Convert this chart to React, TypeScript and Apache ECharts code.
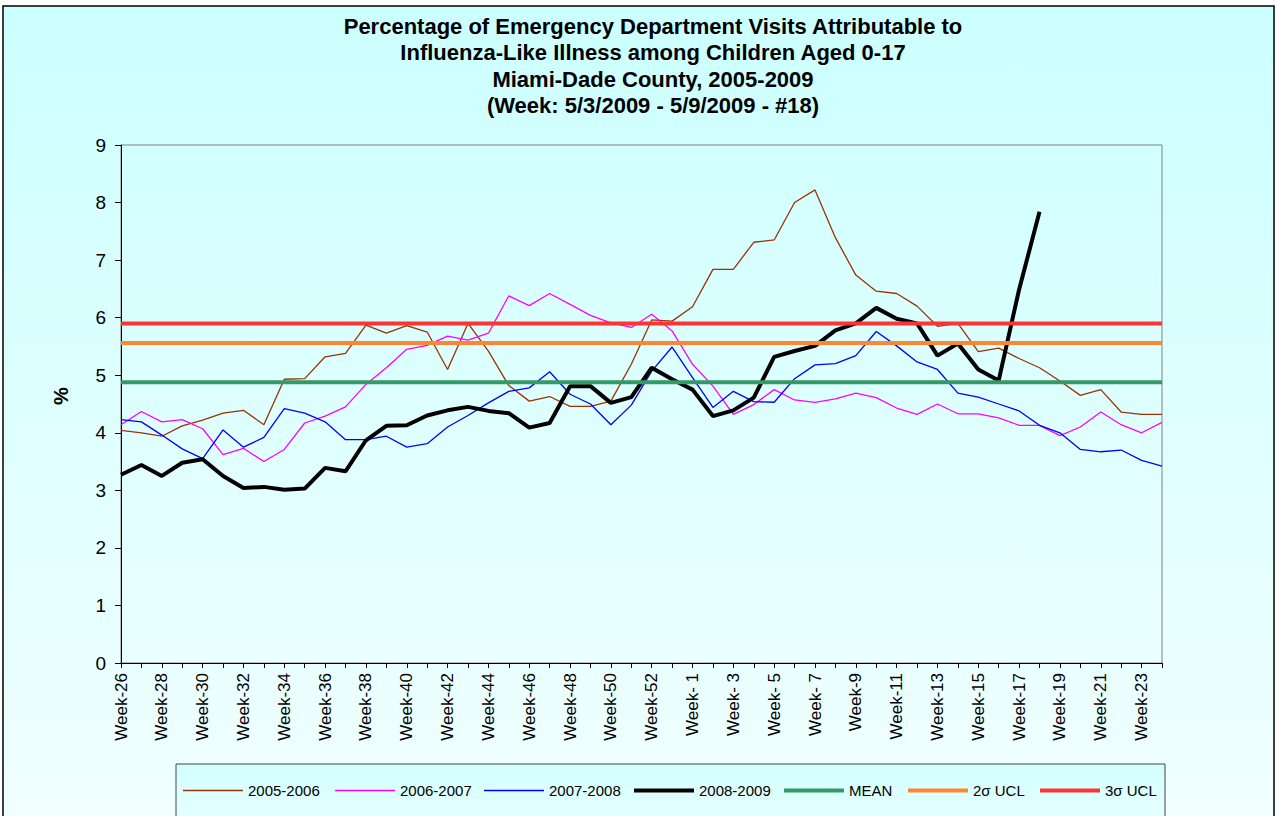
import React, { useEffect, useRef } from "react";
import * as echarts from "echarts";

const weeks = [
  "Week-26", "Week-27", "Week-28", "Week-29", "Week-30", "Week-31", "Week-32", "Week-33", "Week-34", "Week-35",
  "Week-36", "Week-37", "Week-38", "Week-39", "Week-40", "Week-41", "Week-42", "Week-43", "Week-44", "Week-45",
  "Week-46", "Week-47", "Week-48", "Week-49", "Week-50", "Week-51", "Week-52", "Week-53",
  "Week- 1", "Week- 2", "Week- 3", "Week- 4", "Week- 5", "Week- 6", "Week- 7", "Week- 8", "Week-9", "Week-10",
  "Week-11", "Week-12", "Week-13", "Week-14", "Week-15", "Week-16", "Week-17", "Week-18", "Week-19", "Week-20",
  "Week-21", "Week-22", "Week-23", "Week-24",
];

const s2005 = [
  4.04, 4.0, 3.94, 4.12, 4.22, 4.34, 4.39, 4.14, 4.93, 4.94, 5.32, 5.38, 5.87, 5.73, 5.86, 5.75, 5.1, 5.9, 5.42, 4.82,
  4.55, 4.63, 4.46, 4.46, 4.55, 5.19, 5.96, 5.94, 6.19, 6.84, 6.84, 7.31, 7.35, 8.0, 8.22, 7.39, 6.74, 6.46, 6.42, 6.2,
  5.85, 5.9, 5.41, 5.47, 5.29, 5.13, 4.9, 4.65, 4.75, 4.36, 4.32, 4.32,
];
const s2006 = [
  4.14, 4.37, 4.19, 4.23, 4.07, 3.62, 3.73, 3.5, 3.71, 4.17, 4.29, 4.45, 4.84, 5.13, 5.45, 5.52, 5.68, 5.61, 5.73, 6.38,
  6.21, 6.42, 6.23, 6.04, 5.91, 5.83, 6.06, 5.77, 5.19, 4.81, 4.32, 4.49, 4.75, 4.57, 4.53, 4.59, 4.69, 4.61, 4.43, 4.32,
  4.5, 4.33, 4.33, 4.26, 4.13, 4.13, 3.95, 4.1, 4.36, 4.14, 4.0, 4.18,
];
const s2007 = [
  4.23, 4.19, 3.96, 3.72, 3.55, 4.05, 3.75, 3.92, 4.42, 4.34, 4.19, 3.88, 3.88, 3.94, 3.75, 3.81, 4.1, 4.3, 4.52, 4.72,
  4.78, 5.06, 4.67, 4.5, 4.14, 4.48, 5.07, 5.49, 4.96, 4.44, 4.72, 4.54, 4.53, 4.94, 5.18, 5.2, 5.34, 5.76, 5.51, 5.23,
  5.1, 4.69, 4.62, 4.5, 4.38, 4.13, 4.0, 3.71, 3.67, 3.7, 3.52, 3.42,
];
const s2008 = [
  3.27, 3.44, 3.25, 3.48, 3.54, 3.25, 3.04, 3.06, 3.01, 3.03, 3.39, 3.33, 3.87, 4.12, 4.13, 4.3, 4.39, 4.45, 4.38, 4.34,
  4.09, 4.17, 4.81, 4.81, 4.52, 4.62, 5.13, 4.93, 4.75, 4.29, 4.39, 4.61, 5.32, 5.42, 5.51, 5.78, 5.9, 6.17, 5.98, 5.9,
  5.34, 5.55, 5.1, 4.91, 6.49, 7.84,
];
const meanValue = 4.88;
const ucl2Value = 5.56;
const ucl3Value = 5.9;

const titleLines = [
  "Percentage of Emergency Department Visits Attributable to",
  "Influenza-Like Illness among Children Aged 0-17",
  "Miami-Dade County, 2005-2009",
  "(Week: 5/3/2009 - 5/9/2009 - #18)",
];

const seriesNames = ["2005-2006", "2006-2007", "2007-2008", "2008-2009", "MEAN", "2\u03c3 UCL", "3\u03c3 UCL"];
const seriesColors = ["#993300", "#ff00ff", "#0000ff", "#000000", "#339966", "#ff8533", "#ff3333"];
const seriesWidths = [1.3, 1.3, 1.3, 4, 4, 4, 4];
const legendLefts = [183, 335, 484, 634, 784, 908, 1040];

const FONT = "'Liberation Sans', Arial, sans-serif";

export default function App() {
  const ref = useRef<HTMLDivElement>(null);
  useEffect(() => {
    if (!ref.current) return;
    const chart = echarts.init(ref.current, null, { renderer: "svg" });
    const flat = (v: number) => weeks.map(() => v);
    const dataSets = [s2005, s2006, s2007, s2008, flat(meanValue), flat(ucl2Value), flat(ucl3Value)];
    chart.setOption({
      animation: false,
      backgroundColor: "transparent",
      textStyle: { fontFamily: FONT },
      title: {
        text: titleLines.join("\n"),
        left: 648,
        top: 8,
        textAlign: "center",
        textStyle: { fontSize: 22, fontWeight: "bold", lineHeight: 26.5, color: "#000", fontFamily: FONT },
      },
      graphic: [
        {
          type: "rect",
          z: -10,
          silent: true,
          shape: { x: 3, y: 6, width: 1271, height: 830 },
          style: {
            fill: new echarts.graphic.LinearGradient(0, 0, 0, 1, [
              { offset: 0, color: "#ccffff" },
              { offset: 1, color: "#f2ffff" },
            ]),
            stroke: "#000",
            lineWidth: 1.5,
          },
        },
        {
          type: "rect",
          z: -5,
          silent: true,
          shape: { x: 176, y: 764, width: 989, height: 80 },
          style: {
            fill: new echarts.graphic.LinearGradient(0, 0, 0, 1, [
              { offset: 0, color: "#d2ffff" },
              { offset: 1, color: "#f0ffff" },
            ]),
            stroke: "#444",
            lineWidth: 1,
          },
        },
        {
          type: "text",
          silent: true,
          x: 61,
          y: 396,
          rotation: Math.PI / 2,
          style: {
            text: "%",
            fontSize: 20,
            fontWeight: "bold",
            fontFamily: FONT,
            fill: "#000",
            align: "center",
            verticalAlign: "middle",
          },
        },
      ],
      legend: seriesNames.map((name, k) => ({
        data: [{ name, icon: "rect", itemStyle: { color: seriesColors[k] } }],
        left: legendLefts[k],
        top: 790 - 7,
        padding: 0,
        itemWidth: 60,
        itemHeight: Math.max(1.5, seriesWidths[k]),
        selectedMode: false,
        textStyle: { fontSize: 15, color: "#000", fontFamily: FONT, lineHeight: 14 },
      })),
      grid: {
        left: 121,
        top: 145,
        right: 115,
        bottom: 153,
        show: true,
        borderColor: "#808080",
        borderWidth: 1,
        backgroundColor: "transparent",
      },
      xAxis: {
        type: "category",
        data: weeks,
        boundaryGap: false,
        axisLine: { lineStyle: { color: "#000", width: 1 } },
        axisTick: { interval: 0, length: 5, lineStyle: { color: "#000" } },
        axisLabel: { interval: 1, rotate: 90, fontSize: 17, margin: 10, color: "#000", fontFamily: FONT },
        splitLine: { show: false },
      },
      yAxis: {
        type: "value",
        min: 0,
        max: 9,
        interval: 1,
        axisLine: { show: true, lineStyle: { color: "#000", width: 1 } },
        axisTick: { show: true, length: 6, lineStyle: { color: "#000" } },
        axisLabel: { fontSize: 19, margin: 15, color: "#000", fontFamily: FONT },
        splitLine: { show: false },
      },
      series: seriesNames.map((name, k) => ({
        name,
        type: "line",
        data: dataSets[k],
        symbol: "none",
        showSymbol: false,
        lineStyle: { color: seriesColors[k], width: seriesWidths[k] },
        itemStyle: { color: seriesColors[k] },
        z: 2 + k,
      })),
    });
    return () => chart.dispose();
  }, []);
  return (
    <div style={{ position: "fixed", left: 0, top: 0, width: 1277, height: 816, background: "#fff" }}>
      <div ref={ref} style={{ width: 1277, height: 816 }} />
    </div>
  );
}
